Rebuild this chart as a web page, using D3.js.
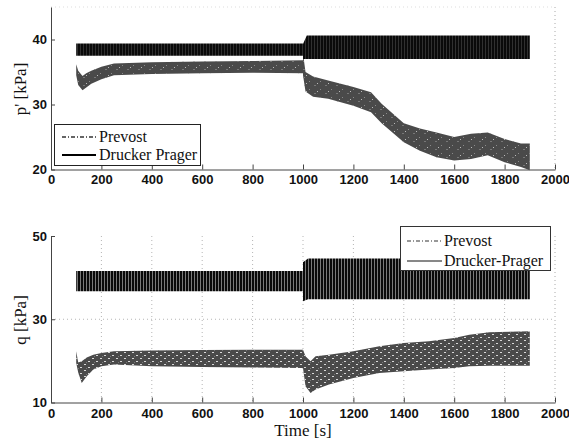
<!DOCTYPE html>
<html>
<head>
<meta charset="utf-8">
<title>p' and q versus time</title>
<style>
  body { margin: 0; background: #fff; }
  .tick text { font-family: "Liberation Sans", Arial, sans-serif; font-size: 13px; font-weight: bold; fill: #111; }
  .lbl { font-family: "Liberation Serif", "Times New Roman", serif; fill: #111; }
</style>
</head>
<body>
<svg id="chart" width="569" height="441"></svg>
<script src="https://d3js.org/d3.v7.min.js"></script>
<script>
  // tick values
  var xTicks = [0, 200, 400, 600, 800, 1000, 1200, 1400, 1600, 1800, 2000];
  var pTicks = [20, 30, 40];
  var qTicks = [10, 30, 50];
  var qGridX = [200, 400, 600, 800, 1000, 1200, 1400, 1600, 1800];

  // envelopes of the oscillating signals (time in s, kPa)
  var dpP_t  = [100, 1000, 1000, 1015, 1900];
  var dpP_hi = [39.4, 39.4, 39.3, 40.6, 40.6];
  var dpP_lo = [37.5, 37.5, 37.0, 37.0, 37.0];

  var pvP_t  = [100, 108, 125, 140, 160, 200, 250, 400, 600, 800, 1000, 1000, 1010, 1040, 1100, 1200, 1270, 1312, 1400, 1464, 1530, 1600, 1667, 1733, 1800, 1865, 1900];
  var pvP_hi = [36.2, 35.2, 34.4, 34.8, 35.2, 35.8, 36.3, 36.5, 36.6, 36.7, 36.8, 37.8, 35.0, 34.3, 33.7, 32.7, 31.9, 30.1, 27.1, 26.3, 25.7, 25.0, 25.5, 25.7, 24.7, 24.0, 24.0];
  var pvP_lo = [34.5, 33.0, 32.2, 32.6, 33.2, 33.9, 34.5, 34.7, 34.8, 34.9, 34.8, 34.5, 32.0, 31.2, 30.9, 29.8, 28.8, 27.1, 24.2, 22.9, 21.9, 21.4, 21.6, 22.2, 21.1, 20.4, 19.9];

  var dpQ_t  = [100, 1000, 1000, 1020, 1900];
  var dpQ_hi = [41.6, 41.6, 43.7, 44.6, 44.6];
  var dpQ_lo = [36.7, 36.7, 34.3, 34.8, 34.8];

  var pvQ_t  = [100, 108, 122, 142, 168, 200, 250, 400, 600, 800, 1000, 1010, 1030, 1050, 1103, 1200, 1303, 1400, 1500, 1600, 1660, 1740, 1900];
  var pvQ_hi = [22.3, 19.6, 19.9, 20.8, 21.5, 21.9, 22.3, 22.5, 22.6, 22.7, 22.7, 21.1, 19.9, 21.1, 21.5, 22.3, 23.5, 24.3, 24.7, 25.5, 26.3, 26.9, 27.1];
  var pvQ_lo = [19.5, 17.2, 14.7, 16.3, 17.9, 18.7, 19.1, 18.7, 18.5, 18.4, 18.3, 13.9, 12.3, 13.1, 14.3, 15.9, 17.1, 17.5, 17.9, 18.3, 18.7, 18.8, 18.8];

  var AXIS_COLOR = "#444";
  var PV_COLOR = "#4a4a4a";
  var svg = d3.select("#chart");

  // fill patterns for the dense oscillation bands
  var defs = svg.append("defs");
  function stripes(id, gap) {
    var p = defs.append("pattern").attr("id", id)
      .attr("patternUnits", "userSpaceOnUse").attr("width", 3).attr("height", 10);
    p.append("rect").attr("width", 3).attr("height", 10).attr("fill", gap);
    p.append("rect").attr("width", 2).attr("height", 10).attr("fill", "#0a0a0a");
  }
  stripes("dpTop", "#303030");
  stripes("dpBot", "#7a7a7a");
  // light specks laid over the grey Prevost band
  function speckle(id, w, h, dashes) {
    var p = defs.append("pattern").attr("id", id)
      .attr("patternUnits", "userSpaceOnUse").attr("width", w).attr("height", h);
    dashes.forEach(function (d) {
      p.append("rect").attr("x", d[0]).attr("y", d[1]).attr("width", d[2]).attr("height", 1).attr("fill", d[3]);
    });
  }
  speckle("pvTop", 11, 8, [[1, 1, 1, "#8a8a8a"], [6, 5, 2, "#777"], [9, 3, 1, "#bbb"]]);
  speckle("pvBot", 8, 6, [[0, 1, 2, "#d8d8d8"], [4, 4, 2, "#d8d8d8"], [6, 2, 1, "#777"]]);

  var x = d3.scaleLinear().domain([0, 2000]).range([51, 555]);
  var yTop = d3.scaleLinear().domain([20, 45]).range([169.5, 7]);
  var yBot = d3.scaleLinear().domain([10, 50]).range([402.5, 236]);

  function rows(t, lo, hi) {
    return t.map(function (v, i) { return { t: v, lo: lo[i], hi: hi[i] }; });
  }
  function band(y) {
    return d3.area()
      .x(function (d) { return x(d.t); })
      .y0(function (d) { return y(d.lo); })
      .y1(function (d) { return y(d.hi); });
  }
  function drawPrevost(g, data, y, pat) {
    g.append("path").datum(data).attr("d", band(y)).attr("fill", PV_COLOR);
    g.append("path").datum(data).attr("d", band(y)).attr("fill", "url(#" + pat + ")");
  }

  // ---------- top panel: p' ----------
  var gTop = svg.append("g");
  // faint box edges
  gTop.append("line").attr("x1", x(2000)).attr("x2", x(2000)).attr("y1", yTop(45)).attr("y2", yTop(20))
    .attr("stroke", "#aaa").attr("stroke-dasharray", "1,3");
  gTop.append("line").attr("x1", x(0)).attr("x2", x(2000)).attr("y1", yTop(45)).attr("y2", yTop(45))
    .attr("stroke", "#ddd").attr("stroke-dasharray", "1,3");

  drawPrevost(gTop, rows(pvP_t, pvP_lo, pvP_hi), yTop, "pvTop");
  gTop.append("path").datum(rows(dpP_t, dpP_lo, dpP_hi)).attr("d", band(yTop)).attr("fill", "url(#dpTop)");

  var fmt = d3.format("d");
  var topX = gTop.append("g").attr("transform", "translate(0," + yTop(20) + ")")
    .call(d3.axisBottom(x).tickValues(xTicks).tickFormat(fmt).tickSizeInner(-5).tickSizeOuter(0).tickPadding(5));
  var topY = gTop.append("g").attr("transform", "translate(" + x(0) + ",0)")
    .call(d3.axisLeft(yTop).tickValues(pTicks).tickFormat(fmt).tickSizeInner(-4).tickSizeOuter(0).tickPadding(4));
  [topX, topY].forEach(function (a) {
    a.select(".domain").attr("stroke", AXIS_COLOR);
    a.selectAll(".tick line").attr("stroke", AXIS_COLOR);
  });

  gTop.append("text").attr("class", "lbl").attr("font-size", 17)
    .attr("transform", "translate(26,89) rotate(-90)").attr("text-anchor", "middle")
    .text("p' [kPa]");

  // legend (top)
  var lg1 = gTop.append("g");
  lg1.append("rect").attr("x", 54.5).attr("y", 124.5).attr("width", 146).attr("height", 41)
    .attr("fill", "#fff").attr("stroke", "#222");
  lg1.append("line").attr("x1", 62).attr("x2", 96).attr("y1", 137).attr("y2", 137)
    .attr("stroke", "#333").attr("stroke-width", 1.3).attr("stroke-dasharray", "4,2,1,2");
  lg1.append("line").attr("x1", 62).attr("x2", 96).attr("y1", 155).attr("y2", 155)
    .attr("stroke", "#000").attr("stroke-width", 2);
  lg1.append("text").attr("class", "lbl").attr("font-size", 16).attr("x", 99).attr("y", 142).text("Prevost");
  lg1.append("text").attr("class", "lbl").attr("font-size", 16).attr("x", 99).attr("y", 160).text("Drucker Prager");

  // ---------- bottom panel: q ----------
  var gBot = svg.append("g");
  gBot.selectAll(".gx").data(qGridX).enter().append("line")
    .attr("x1", function (d) { return x(d); }).attr("x2", function (d) { return x(d); })
    .attr("y1", yBot(50)).attr("y2", yBot(10))
    .attr("stroke", "#b5b5b5").attr("stroke-dasharray", "1,3");
  gBot.append("line").attr("x1", x(0)).attr("x2", x(2000)).attr("y1", yBot(30)).attr("y2", yBot(30))
    .attr("stroke", "#b5b5b5").attr("stroke-dasharray", "1,3");
  gBot.append("line").attr("x1", x(2000)).attr("x2", x(2000)).attr("y1", yBot(50)).attr("y2", yBot(10))
    .attr("stroke", "#aaa").attr("stroke-dasharray", "1,3");

  gBot.append("path").datum(rows(dpQ_t, dpQ_lo, dpQ_hi)).attr("d", band(yBot)).attr("fill", "url(#dpBot)");
  drawPrevost(gBot, rows(pvQ_t, pvQ_lo, pvQ_hi), yBot, "pvBot");

  var botX = gBot.append("g").attr("transform", "translate(0," + yBot(10) + ")")
    .call(d3.axisBottom(x).tickValues(xTicks).tickFormat(fmt).tickSizeInner(-5).tickSizeOuter(0).tickPadding(6));
  var botY = gBot.append("g").attr("transform", "translate(" + x(0) + ",0)")
    .call(d3.axisLeft(yBot).tickValues(qTicks).tickFormat(fmt).tickSizeInner(-4).tickSizeOuter(0).tickPadding(4));
  [botX, botY].forEach(function (a) {
    a.select(".domain").attr("stroke", AXIS_COLOR);
    a.selectAll(".tick line").attr("stroke", AXIS_COLOR);
  });

  gBot.append("text").attr("class", "lbl").attr("font-size", 17)
    .attr("transform", "translate(26,320) rotate(-90)").attr("text-anchor", "middle")
    .text("q [kPa]");
  gBot.append("text").attr("class", "lbl").attr("font-size", 17)
    .attr("x", 303).attr("y", 436).attr("text-anchor", "middle").text("Time [s]");

  // legend (bottom)
  var lg2 = gBot.append("g");
  lg2.append("rect").attr("x", 400.5).attr("y", 226.5).attr("width", 150).attr("height", 44)
    .attr("fill", "#fff").attr("stroke", "#333");
  lg2.append("line").attr("x1", 407).attr("x2", 442).attr("y1", 241).attr("y2", 241)
    .attr("stroke", "#333").attr("stroke-width", 1.2).attr("stroke-dasharray", "4,2,1,2");
  lg2.append("line").attr("x1", 407).attr("x2", 442).attr("y1", 261).attr("y2", 261)
    .attr("stroke", "#111").attr("stroke-width", 1);
  lg2.append("text").attr("class", "lbl").attr("font-size", 16).attr("x", 444).attr("y", 246).text("Prevost");
  lg2.append("text").attr("class", "lbl").attr("font-size", 16).attr("x", 444).attr("y", 266).text("Drucker-Prager");
</script>
</body>
</html>
